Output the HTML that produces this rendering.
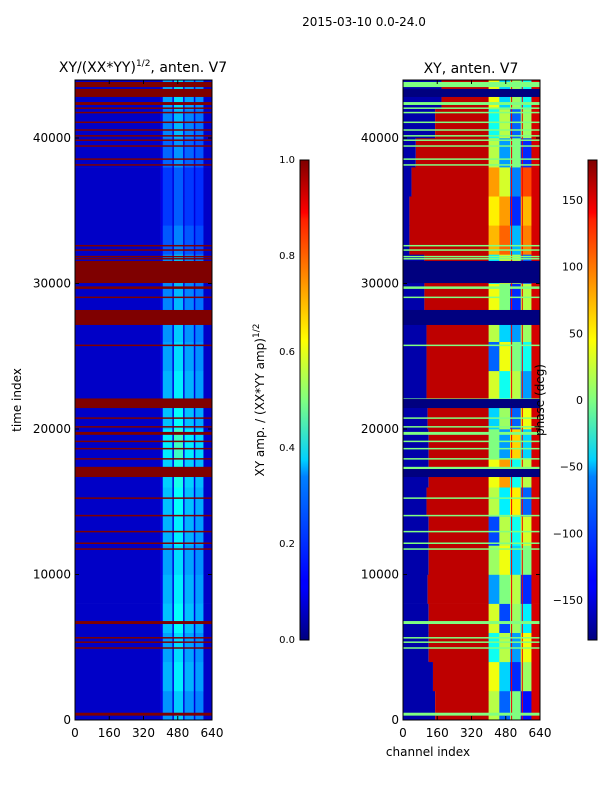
<!DOCTYPE html>
<html><head><meta charset="utf-8"><style>
body{margin:0;background:#fff;}
svg text{font-family:"DejaVu Sans","Liberation Sans",sans-serif;fill:#000;}
</style></head><body>
<svg id="fig" width="600" height="800" viewBox="0 0 600 800" xmlns="http://www.w3.org/2000/svg">
<defs>
<linearGradient id="jet" x1="0" y1="1" x2="0" y2="0">
<stop offset="0" stop-color="#00007f"/><stop offset="0.11" stop-color="#0000ff"/><stop offset="0.125" stop-color="#0000ff"/>
<stop offset="0.34" stop-color="#0080ff"/><stop offset="0.375" stop-color="#00d0ff"/><stop offset="0.5" stop-color="#80ff80"/>
<stop offset="0.625" stop-color="#ffff00"/><stop offset="0.66" stop-color="#ffe000"/><stop offset="0.875" stop-color="#ff2000"/><stop offset="0.89" stop-color="#ff0000"/><stop offset="1" stop-color="#7f0000"/>
</linearGradient>
</defs>
<text x="364" y="26" font-size="12" text-anchor="middle">2015-03-10 0.0-24.0</text>
<text x="143" y="72" font-size="14" text-anchor="middle">XY/(XX*YY)<tspan font-size="9" dy="-6">1/2</tspan><tspan dy="6">, anten. V7</tspan></text>
<text x="471" y="73" font-size="14" text-anchor="middle">XY, anten. V7</text>
<g id="left"></g>
<g id="right"></g>
<g id="axes"></g>
<text x="21" y="400" font-size="12" text-anchor="middle" transform="rotate(-90 21 400)">time index</text>
<text x="428" y="756" font-size="12" text-anchor="middle">channel index</text>
<rect x="300" y="160" width="9" height="480" fill="url(#jet)" stroke="#000" stroke-width="1"/>
<rect x="588" y="160" width="9" height="480" fill="url(#jet)" stroke="#000" stroke-width="1"/>
<text x="264" y="400" font-size="12" text-anchor="middle" transform="rotate(-90 264 400)">XY amp. / (XX*YY amp)<tspan font-size="9" dy="-5">1/2</tspan></text>
<text x="544" y="400" font-size="12" text-anchor="middle" transform="rotate(-90 544 400)">phase (deg)</text>
</svg>
<script>
const NS='http://www.w3.org/2000/svg';
const rowGain=[0.9,1.0,0.95,1.05,1.0,0.95,1.0,1.05,1.1,1.2,1.05,1.0,0.95,0.9,0.85,0.9,0.7,0.6,0.6,0.75,0.85,0.95];
const blueEdge=[150,140,120,120,115,120,120,110,120,120,115,110,110,110,100,100,30,30,40,60,150,180];
const midPhase=[[20,-100,0,-130],[40,-60,-120,10],[-40,20,-80,40],[30,-110,10,-50],[-80,0,20,-120],[10,40,-60,0],[-110,20,-40,30],[20,-50,50,-100],[40,80,-40,20],[0,-80,60,-60],[-60,10,-100,40],[30,-40,20,-80],[-100,40,0,-40],[20,-60,-80,10],[40,0,-120,20],[-50,30,20,-100],[70,100,-70,90],[50,80,-120,70],[80,30,-90,110],[20,-80,0,-120],[-40,20,-100,10],[40,-60,10,-40]];
const colStart=[0,400,410,455,462,505,512,555,562,600];
const colEnd=[400,410,455,462,505,512,555,562,600,640];
const colLevel=[0.07,0.1,0.3,0.09,0.36,0.09,0.3,0.09,0.28,0.07];
const flagStart=[43500,42820,42270,42000,41700,41030,40500,40100,39800,39400,38500,38100,32550,32250,31800,31650,30030,29630,29000,27150,25700,22060,21440,20700,20100,19600,19100,18600,17900,17250,16700,15200,14000,12900,12100,11700,6700,6600,5600,5300,4900,300];
const flagEnd=[43850,43370,42470,42100,41800,41130,40600,40200,39900,39500,38600,38200,32650,32350,31900,31750,31550,29800,29100,28180,25800,22100,22060,20800,20200,19800,19200,18700,18000,17400,17250,15300,14100,13000,12200,11800,6800,6700,5700,5400,5000,500];
const yT=t=>720-t*0.01455;
const xL=c=>75+c*137/640, xR=c=>403+c*137/640;
function jet(v){v=Math.max(0,Math.min(1,v));const f=x=>Math.round(255*Math.max(0,Math.min(1,1.5-Math.abs(4*v-x))));return `rgb(${f(3)},${f(2)},${f(1)})`;}
const ph=p=>jet((p+180)/360);
function rect(g,x,y,w,h,fill,name){const r=document.createElementNS(NS,'rect');r.setAttribute('x',x);r.setAttribute('y',y);r.setAttribute('width',w);r.setAttribute('height',h);r.setAttribute('fill',fill);


g.appendChild(r);}
const gl=document.getElementById('left'),gr=document.getElementById('right');
const STEP=2000;
for(let t=0;t<44000;t+=STEP){
 const y=yT(t+STEP),h=yT(t)-y+0.3;
 const bi=Math.min(21,Math.floor(t/2000));
 for(let k=0;k<colStart.length;k++){
  const v=colLevel[k]>0.2?colLevel[k]*rowGain[bi]:colLevel[k];
  rect(gl,xL(colStart[k]),y,xL(colEnd[k])-xL(colStart[k])+0.3,h,jet(v),'amp-cell');
 }
 rect(gr,xR(0),y,xR(blueEdge[bi])-xR(0),h,ph(-165),'phase-cell');
 rect(gr,xR(blueEdge[bi]),y,xR(400)-xR(blueEdge[bi])+0.3,h,ph(158),'phase-cell');
 for(let k=0;k<4;k++){const c0=400+k*50;rect(gr,xR(c0),y,xR(c0+50)-xR(c0)+0.3,h,ph(midPhase[bi][k]),'phase-cell');}
 rect(gr,xR(505),y,1,h,ph(140),'phase-cell');rect(gr,xR(555),y,1,h,ph(140),'phase-cell');
 rect(gr,xR(600),y,xR(640)-xR(600),h,ph(150),'phase-cell');
}
for(let i=0;i<flagStart.length;i++){
 const y=yT(flagEnd[i]),h=Math.max(1.5,yT(flagStart[i])-y);
 const thick=flagEnd[i]-flagStart[i]>400;
 rect(gl,75,y,137,h,'#7f0000','flag-row');
 rect(gr,403,y,137,h,thick?'#00007f':'#80ff80','flag-row');
}
const ax=document.getElementById('axes');
function line(x1,y1,x2,y2,name){const l=document.createElementNS(NS,'line');l.setAttribute('x1',x1);l.setAttribute('y1',y1);l.setAttribute('x2',x2);l.setAttribute('y2',y2);l.setAttribute('stroke','#000');


ax.appendChild(l);}
function txt(x,y,s,anchor,name,size){const e=document.createElementNS(NS,'text');e.setAttribute('x',x);e.setAttribute('y',y);e.setAttribute('font-size',size||12);e.setAttribute('text-anchor',anchor);e.textContent=s;


ax.appendChild(e);}
const yTicks=[0,10000,20000,30000,40000];
const xTicks=[0,160,320,480,640];
[[75,xL],[403,xR]].forEach(([x0,fx])=>{
 const r=document.createElementNS(NS,'rect');r.setAttribute('x',x0);r.setAttribute('y',80);r.setAttribute('width',137);r.setAttribute('height',640);r.setAttribute('fill','none');r.setAttribute('stroke','#000');
 
 
 ax.appendChild(r);
 yTicks.forEach(t=>{const y=yT(t);line(x0,y,x0+4,y,'y-tick');line(x0+137,y,x0+133,y,'y-tick');txt(x0-4,y+4,String(t),'end','y-tick-label');});
 xTicks.forEach(c=>{const x=fx(c);line(x,720,x,716,'x-tick');line(x,80,x,84,'x-tick');txt(x,737,String(c),'middle','x-tick-label');});
});
const ampTicks=[0,0.2,0.4,0.6,0.8,1.0];
ampTicks.forEach(v=>{const y=640-v*480;line(300,y,303,y,'cbar-tick');line(309,y,306,y,'cbar-tick');txt(295,y+3,v.toFixed(1),'end','amp-cbar-label',10);});
const phTicks=[-150,-100,-50,0,50,100,150];
phTicks.forEach(p=>{const y=400-p*480/360;line(588,y,591,y,'cbar-tick');line(597,y,594,y,'cbar-tick');txt(583,y+4,p<0?'\u2212'+(-p):String(p),'end','phase-cbar-label',11);});
</script>
</body></html>
